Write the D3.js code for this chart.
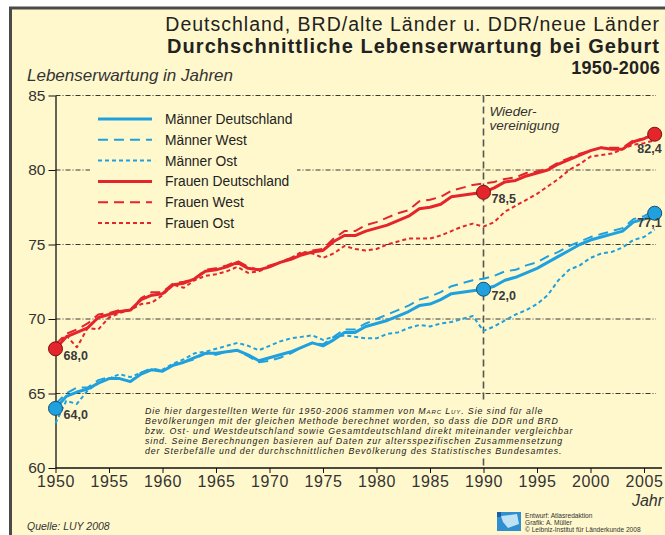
<!DOCTYPE html>
<html>
<head>
<meta charset="utf-8">
<script src="https://cdn.jsdelivr.net/npm/d3@7"></script>
<style>
    body { margin: 0; background: #fff; }
    svg { display: block; font-family: "Liberation Sans", Arial, sans-serif; }
</style>
</head>
<body>
<svg id="chart" width="665" height="535"></svg>
<script>
const years = [1950, 1951, 1952, 1953, 1954, 1955, 1956, 1957, 1958, 1959,
    1960, 1961, 1962, 1963, 1964, 1965, 1966, 1967, 1968, 1969,
    1970, 1971, 1972, 1973, 1974, 1975, 1976, 1977, 1978, 1979,
    1980, 1981, 1982, 1983, 1984, 1985, 1986, 1987, 1988, 1989,
    1990, 1991, 1992, 1993, 1994, 1995, 1996, 1997, 1998, 1999,
    2000, 2001, 2002, 2003, 2004, 2005, 2006];

const frauenDeutschland = [68.0, 68.8, 69.1, 69.4, 70.1, 70.3, 70.5, 70.6, 71.3, 71.6,
    71.7, 72.3, 72.4, 72.7, 73.2, 73.3, 73.5, 73.8, 73.4, 73.3,
    73.5, 73.8, 74.0, 74.3, 74.5, 74.6, 75.2, 75.6, 75.6, 75.9,
    76.1, 76.3, 76.6, 76.9, 77.4, 77.5, 77.7, 78.2, 78.3, 78.4,
    78.5, 78.8, 79.2, 79.3, 79.6, 79.8, 80.0, 80.4, 80.7, 81.0,
    81.3, 81.5, 81.4, 81.4, 81.9, 82.1, 82.4];
const frauenWest = [68.3, 69.0, 69.3, 69.7, 70.3, 70.4, 70.6, 70.6, 71.4, 71.8,
    71.8, 72.4, 72.5, 72.7, 73.3, 73.4, 73.6, 73.9, 73.5, 73.3,
    73.6, 73.8, 74.1, 74.4, 74.6, 74.7, 75.4, 75.9, 75.9, 76.3,
    76.5, 76.8, 77.1, 77.3, 77.9, 78.0, 78.2, 78.6, 78.8, 79.0,
    79.1, 79.2, 79.4, 79.5, 79.8, 79.9, 80.1, 80.5, 80.8, 81.1,
    81.3, 81.5, 81.5, 81.5, 82.0, 82.1, 82.5];
const frauenOst = [68.3, 68.9, 68.1, 69.4, 69.3, 70.1, 70.4, 70.6, 71.0, 71.1,
    71.6, 72.3, 72.1, 72.6, 72.9, 73.0, 73.2, 73.5, 73.1, 73.2,
    73.5, 73.8, 74.1, 74.5, 74.4, 74.1, 74.4, 74.9, 74.7, 74.6,
    74.7, 75.0, 75.2, 75.4, 75.4, 75.4, 75.6, 75.9, 76.2, 76.4,
    76.2, 76.5, 77.2, 77.6, 78.0, 78.4, 78.9, 79.4, 80.0, 80.4,
    80.9, 81.0, 81.1, 81.4, 81.7, 81.8, 82.0];
const maennerDeutschland = [64.0, 64.8, 65.1, 65.3, 65.7, 66.0, 66.0, 65.8, 66.3, 66.6,
    66.5, 66.9, 67.1, 67.4, 67.7, 67.7, 67.8, 67.9, 67.6, 67.2,
    67.4, 67.6, 67.8, 68.1, 68.4, 68.2, 68.6, 69.1, 69.1, 69.5,
    69.7, 69.9, 70.2, 70.5, 70.9, 71.0, 71.3, 71.7, 71.8, 71.9,
    72.0, 72.2, 72.6, 72.8, 73.1, 73.4, 73.8, 74.2, 74.6, 75.0,
    75.3, 75.5, 75.7, 75.9, 76.5, 76.7, 77.1];
const maennerWest = [64.3, 65.0, 65.4, 65.4, 65.9, 66.1, 66.0, 65.8, 66.4, 66.7,
    66.5, 66.9, 67.1, 67.3, 67.7, 67.6, 67.8, 67.9, 67.5, 67.1,
    67.2, 67.4, 67.7, 68.1, 68.4, 68.3, 68.8, 69.3, 69.3, 69.7,
    70.0, 70.3, 70.6, 70.9, 71.3, 71.5, 71.8, 72.2, 72.4, 72.6,
    72.7, 72.9, 73.2, 73.3, 73.6, 73.8, 74.2, 74.5, 74.9, 75.2,
    75.5, 75.7, 75.9, 76.1, 76.7, 76.9, 77.3];
const maennerOst = [63.0, 64.5, 64.3, 65.2, 65.7, 66.0, 66.3, 66.1, 66.4, 66.6,
    66.6, 67.0, 67.3, 67.7, 67.8, 68.0, 68.2, 68.4, 68.2, 67.9,
    68.2, 68.5, 68.7, 68.8, 68.9, 68.6, 68.8, 68.9, 68.8, 68.7,
    68.7, 69.0, 69.1, 69.4, 69.6, 69.5, 69.7, 69.8, 70.0, 70.2,
    69.2, 69.5, 69.9, 70.3, 70.6, 71.0, 71.6, 72.6, 73.3, 73.6,
    74.1, 74.4, 74.5, 74.8, 75.3, 75.5, 76.0];

const xTicks = [1950, 1955, 1960, 1965, 1970, 1975, 1980, 1985, 1990, 1995, 2000, 2005];
const yTicks = [60, 65, 70, 75, 80, 85];

const seriesNames = ["Männer Deutschland", "Männer West", "Männer Ost", "Frauen Deutschland", "Frauen West", "Frauen Ost"];
const seriesValues = [maennerDeutschland, maennerWest, maennerOst, frauenDeutschland, frauenWest, frauenOst];

// highlighted points (Deutschland series)
const markerYears = [1950, 1990, 2006];
const markerLabels = { "Männer Deutschland": ["64,0", "72,0", "77,1"], "Frauen Deutschland": ["68,0", "78,5", "82,4"] };

const noteLines = [
    ["Die hier dargestellten Werte für 1950-2006 stammen von ", "Marc Luy", ". Sie sind für alle"],
    ["Bevölkerungen mit der gleichen Methode berechnet worden, so dass die DDR und BRD"],
    ["bzw. Ost- und Westdeutschland sowie Gesamtdeutschland direkt miteinander vergleichbar"],
    ["sind. Seine Berechnungen basieren auf Daten zur altersspezifischen Zusammensetzung"],
    ["der Sterbefälle und der durchschnittlichen Bevölkerung des Statistisches Bundesamtes."]
];

const bg = "#fff8cc", blue = "#1ea1de", red = "#e4252b", ink = "#333";
const styles = {
    "Deutschland": { width: 3, dash: null },
    "West": { width: 2, dash: "10,6" },
    "Ost": { width: 2, dash: "4,3" }
};

const svg = d3.select("#chart");

// frame + background
svg.append("rect").attr("x", 10.5).attr("y", 8).attr("width", 670).attr("height", 540)
    .attr("fill", bg).attr("stroke", "#4a4a4a").attr("stroke-width", 3);

const x = d3.scaleLinear().domain([1950, 2006]).range([55.5, 654.7]);
const y = d3.scaleLinear().domain([60, 85]).range([468, 95.5]);

// titles
const title = svg.append("g").attr("text-anchor", "end").attr("fill", "#222");
title.append("text").attr("x", 660).attr("y", 31).attr("font-size", 19.5).attr("letter-spacing", 1)
    .text("Deutschland, BRD/alte Länder u. DDR/neue Länder");
title.append("text").attr("x", 660).attr("y", 53).attr("font-size", 20).attr("font-weight", "bold").attr("letter-spacing", 1.05)
    .text("Durchschnittliche Lebenserwartung bei Geburt");
title.append("text").attr("x", 660).attr("y", 74).attr("font-size", 18).attr("font-weight", "bold").attr("letter-spacing", 0.3)
    .text("1950-2006");

svg.append("text").attr("x", 27).attr("y", 81).attr("font-size", 17).attr("font-style", "italic")
    .attr("fill", ink).text("Lebenserwartung in Jahren");

// grid lines (dash-dot)
svg.append("g").selectAll("line").data(yTicks.filter(d => d > 60)).join("line")
    .attr("x1", x(1950)).attr("x2", 656)
    .attr("y1", d => y(d)).attr("y2", d => y(d))
    .attr("stroke", "#222").attr("stroke-width", 0.9).attr("stroke-dasharray", "5,2,1,2");

// legend background hides grid
svg.append("rect").attr("x", 90).attr("y", 104).attr("width", 207).attr("height", 130).attr("fill", bg);

// reunification line
svg.append("line").attr("x1", x(1990)).attr("x2", x(1990)).attr("y1", y(85)).attr("y2", y(60))
    .attr("stroke", "#555").attr("stroke-width", 1.6).attr("stroke-dasharray", "7,4");
const wv = svg.append("g").attr("font-size", 13.5).attr("font-style", "italic").attr("fill", ink);
wv.append("text").attr("x", x(1990) + 6).attr("y", 116).text("Wieder-");
wv.append("text").attr("x", x(1990) + 6).attr("y", 130).text("vereinigung");

// note box
svg.append("rect").attr("x", 140).attr("y", 403).attr("width", 440).attr("height", 55).attr("fill", bg);
const note = svg.append("g").attr("font-size", 8.8).attr("font-style", "italic").attr("fill", "#222")
    .attr("letter-spacing", 0.9);
noteLines.forEach((parts, i) => {
    const t = note.append("text").attr("x", 145).attr("y", 414 + i * 9.9);
    parts.forEach(p => {
        const ts = t.append("tspan").text(p);
        if (p === "Marc Luy") ts.style("font-variant", "small-caps");
    });
});

// axes
const yAxis = svg.append("g").attr("transform", `translate(${x(1950)},0)`)
    .call(d3.axisLeft(y).tickValues(yTicks).tickSize(7).tickSizeOuter(0).tickPadding(3));
yAxis.select(".domain").attr("stroke", "#111").attr("stroke-width", 1.3);
yAxis.selectAll(".tick line").attr("stroke", "#111");
yAxis.selectAll("text").attr("font-size", 15.5).attr("fill", ink).attr("font-family", "Liberation Sans, Arial, sans-serif");

const xAxis = svg.append("g").attr("transform", `translate(0,${y(60)})`)
    .call(d3.axisBottom(x).tickValues(xTicks).tickFormat(d3.format("d")).tickSize(5).tickSizeOuter(0).tickPadding(3));
xAxis.select(".domain").remove();
xAxis.append("line").attr("x1", x(1950)).attr("x2", 662).attr("stroke", "#111").attr("stroke-width", 1.3);
xAxis.selectAll(".tick line").attr("stroke", "#111");
xAxis.selectAll("text").attr("font-size", 16).attr("letter-spacing", 0.6).attr("fill", ink).attr("font-family", "Liberation Sans, Arial, sans-serif");

svg.append("text").attr("x", 663).attr("y", 506).attr("text-anchor", "end").attr("font-size", 16)
    .attr("font-style", "italic").attr("fill", ink).text("Jahr");

// lines
const line = d3.line().x((d, i) => x(years[i])).y(d => y(d));
const drawOrder = [2, 5, 1, 4, 0, 3];
const lines = svg.append("g").attr("fill", "none").attr("stroke-linejoin", "round");
drawOrder.forEach(k => {
    const name = seriesNames[k];
    const st = styles[name.split(" ")[1]];
    lines.append("path").datum(seriesValues[k]).attr("d", line)
        .attr("stroke", name.startsWith("Männer") ? blue : red)
        .attr("stroke-width", st.width)
        .attr("stroke-dasharray", st.dash);
});

// legend
const legend = svg.append("g").attr("font-size", 13.8).attr("fill", "#222");
seriesNames.forEach((name, i) => {
    const st = styles[name.split(" ")[1]];
    const ly = 119 + i * 20.8;
    legend.append("line").attr("x1", 98).attr("x2", 152).attr("y1", ly).attr("y2", ly)
        .attr("stroke", name.startsWith("Männer") ? blue : red)
        .attr("stroke-width", st.width).attr("stroke-dasharray", st.dash);
    legend.append("text").attr("x", 165).attr("y", ly + 5).text(name);
});

// markers
const labelOffsets = [[8, 11], [8, 11], [7, 19]];
["Männer Deutschland", "Frauen Deutschland"].forEach(name => {
    const vals = seriesValues[seriesNames.indexOf(name)];
    markerYears.forEach((yr, j) => {
        const v = vals[years.indexOf(yr)];
        const cx = x(yr), cy = y(v);
        svg.append("circle").attr("cx", cx).attr("cy", cy).attr("r", 7)
            .attr("fill", name.startsWith("Männer") ? blue : red)
            .attr("stroke", name.startsWith("Männer") ? "#1b4f72" : "#7a1313").attr("stroke-width", 1);
        const [dx, dy] = labelOffsets[j];
        svg.append("text").attr("x", cx + dx).attr("y", cy + dy + (j === 2 && name.startsWith("Männer") ? -5 : 0))
            .attr("text-anchor", j === 2 ? "end" : "start")
            .attr("font-size", 12.5).attr("font-weight", "bold").attr("fill", "#3a3a3a")
            .text(markerLabels[name][j]);
    });
});

// source & credits
svg.append("text").attr("x", 27).attr("y", 530).attr("font-size", 10.5).attr("font-style", "italic")
    .attr("fill", ink).text("Quelle: LUY 2008");

const logo = svg.append("g");
logo.append("rect").attr("x", 497).attr("y", 512).attr("width", 24).attr("height", 19).attr("fill", "#2f8fd0");
logo.append("path").attr("d", "M501,516 L517,514 L519,524 L508,528 L503,522 Z").attr("fill", "#bfe3f5");
logo.append("rect").attr("x", 497).attr("y", 512).attr("width", 4).attr("height", 5).attr("fill", "#1a5ea8");

const credits = svg.append("g").attr("font-size", 6.6).attr("fill", "#333");
["Entwurf: Atlasredaktion", "Grafik: A. Müller", "© Leibniz-Institut für Länderkunde 2008"].forEach((t, i) => {
    credits.append("text").attr("x", 525).attr("y", 518 + i * 6.8).text(t);
});
</script>
</body>
</html>
